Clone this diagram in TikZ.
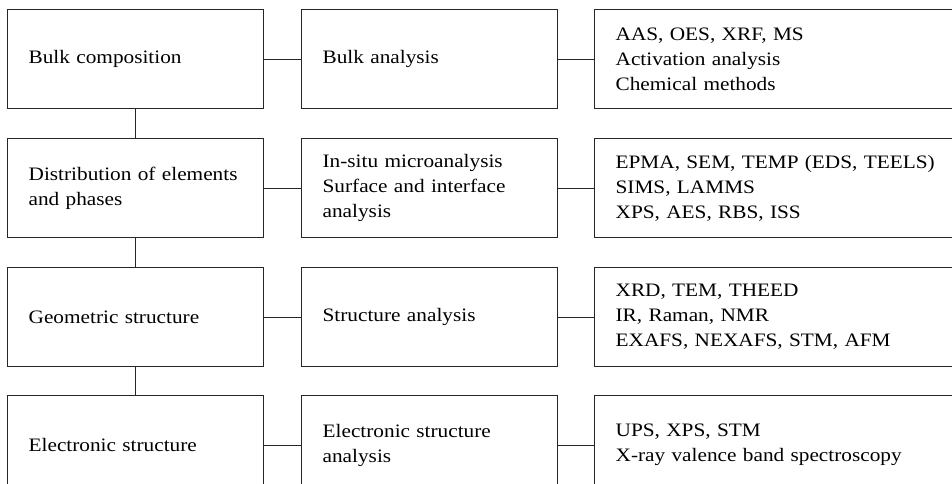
\documentclass[tikz,border=0pt]{standalone}
\usepackage{fontspec}
\setmainfont{Liberation Serif}[FakeStretch=1.12]
\begin{document}
\begin{tikzpicture}[x=1pt,y=-1pt,
  box/.style={draw=black!85, line width=1.3pt, anchor=north west, minimum height=99pt,
    inner xsep=21pt, inner ysep=0pt, align=left, font=\fontsize{19}{25}\selectfont},
  boxA/.style={box, minimum width=256pt, text width=214pt},
  boxC/.style={box, minimum width=420pt, text width=378pt},
  link/.style={draw=black!85, line width=1.3pt}]
\useasboundingbox (0,0) rectangle (952,483);
\clip (0,0) rectangle (952,483);
% row 1
\node[boxA] (a1) at (7,9) {Bulk composition};
\node[boxA] (b1) at (301,9) {Bulk analysis};
\node[boxC] (c1) at (594,9) {AAS, OES, XRF, MS\\Activation analysis\\Chemical methods};
% row 2
\node[boxA] (a2) at (7,138) {Distribution of elements\\and phases};
\node[boxA] (b2) at (301,138) {In-situ microanalysis\\Surface and interface\\analysis};
\node[boxC] (c2) at (594,138) {EPMA, SEM, TEMP (EDS, TEELS)\\SIMS, LAMMS\\XPS, AES, RBS, ISS};
% row 3
\node[boxA] (a3) at (7,267) {Geometric structure};
\node[boxA] (b3) at (301,267) {Structure analysis};
\node[boxC] (c3) at (594,267) {XRD, TEM, THEED\\IR, Raman, NMR\\EXAFS, NEXAFS, STM, AFM};
% row 4
\node[boxA] (a4) at (7,395) {Electronic structure};
\node[boxA] (b4) at (301,395) {Electronic structure\\analysis};
\node[boxC] (c4) at (594,395) {UPS, XPS, STM\\X-ray valence band spectroscopy};
% connectors
\foreach \r in {1,2,3,4}{
  \draw[link] (a\r.east) -- (b\r.west);
  \draw[link] (b\r.east) -- (c\r.west);
}
\draw[link] (a1.south) -- (a2.north);
\draw[link] (a2.south) -- (a3.north);
\draw[link] (a3.south) -- (a4.north);
\end{tikzpicture}
\end{document}
